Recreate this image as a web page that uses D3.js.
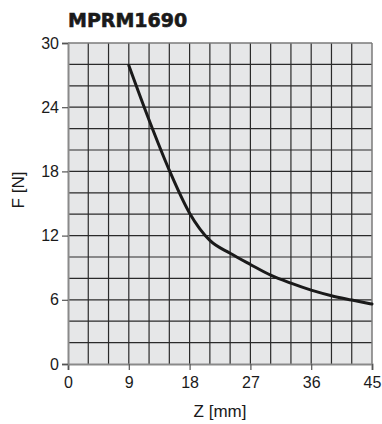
<!DOCTYPE html>
<html><head><meta charset="utf-8">
<script src="https://cdn.jsdelivr.net/npm/d3@7"></script>
<style>body{margin:0;background:#fff}svg{display:block}</style>
</head><body>
<script>
const title = "MPRM1690";
const xLabel = "Z [mm]";
const yLabel = "F [N]";
const zValues = [9, 12, 15, 18, 21, 24, 27, 30, 33, 36, 39, 42, 45];
const fValues = [27.9, 22.8, 18.1, 14.1, 11.55, 10.35, 9.3, 8.3, 7.55, 6.9, 6.38, 5.98, 5.6];
const xTicks = [0, 9, 18, 27, 36, 45];
const yTicks = [0, 6, 12, 18, 24, 30];
const xGrid = d3.range(0, 46, 3);
const yGrid = d3.range(0, 31, 2);

const W = 382, H = 424;
const m = {left: 68, right: 10, top: 43, bottom: 60};
const svg = d3.select("body").append("svg").attr("width", W).attr("height", H);
const x = d3.scaleLinear().domain([0, 45]).range([m.left, W - m.right]);
const y = d3.scaleLinear().domain([0, 30]).range([H - m.bottom, m.top]);

svg.append("rect").attr("x", x(0)).attr("y", y(30))
  .attr("width", x(45) - x(0)).attr("height", y(0) - y(30)).attr("fill", "#e6e7e8");

const g = svg.append("g");
g.selectAll(".vg").data(xGrid.slice(1, -1)).join("line")
  .attr("x1", d => x(d)).attr("x2", d => x(d)).attr("y1", y(0)).attr("y2", y(30))
  .attr("stroke", "#2a2a2a").attr("stroke-width", 1.2);
g.selectAll(".hg").data(yGrid.slice(1, -1)).join("line")
  .attr("y1", d => y(d)).attr("y2", d => y(d)).attr("x1", x(0)).attr("x2", x(45))
  .attr("stroke", "#2a2a2a").attr("stroke-width", 1.2);
svg.append("line").attr("x1", x(0)).attr("x2", x(45)).attr("y1", y(30)).attr("y2", y(30))
  .attr("stroke", "#7a7a7a").attr("stroke-width", 1.5);
svg.append("line").attr("x1", x(45)).attr("x2", x(45)).attr("y1", y(30)).attr("y2", y(0))
  .attr("stroke", "#7a7a7a").attr("stroke-width", 1.5);

const xAxis = svg.append("g").attr("transform", `translate(0,${y(0)})`)
  .call(d3.axisBottom(x).tickValues(xTicks).tickSize(6).tickPadding(7));
const yAxis = svg.append("g").attr("transform", `translate(${x(0)},0)`)
  .call(d3.axisLeft(y).tickValues(yTicks).tickSize(6).tickPadding(3));
[xAxis, yAxis].forEach(a => {
  a.select(".domain").attr("stroke", "#8a8a8a").attr("stroke-width", 2);
  a.selectAll(".tick line").attr("stroke", "#555").attr("stroke-width", 1.2);
  a.selectAll(".tick text").attr("fill", "#1a1a1a")
    .style("font-family", "'Liberation Sans', Arial, sans-serif").style("font-size", "16px");
});

const line = d3.line().x((d, i) => x(zValues[i])).y(d => y(d)).curve(d3.curveMonotoneX);
svg.append("path").datum(fValues).attr("d", line)
  .attr("fill", "none").attr("stroke", "#1a1a1a").attr("stroke-width", 3).attr("stroke-linecap", "round");

svg.append("text").attr("x", x(0)).attr("y", 27).text(title)
  .style("font-family", "'DejaVu Sans', sans-serif").style("font-weight", "bold").style("font-size", "19px")
  .attr("fill", "#1a1a1a").attr("stroke", "#1a1a1a").attr("stroke-width", 0.6);
svg.append("text").attr("x", (x(0) + x(45)) / 2).attr("y", 417).attr("text-anchor", "middle").text(xLabel)
  .style("font-family", "'Liberation Sans', Arial, sans-serif").style("font-size", "17px").attr("fill", "#1a1a1a");
svg.append("text").attr("transform", `translate(24,190) rotate(-90)`).attr("text-anchor", "middle").text(yLabel)
  .style("font-family", "'Liberation Sans', Arial, sans-serif").style("font-size", "17px").attr("fill", "#1a1a1a");
</script>
</body></html>
